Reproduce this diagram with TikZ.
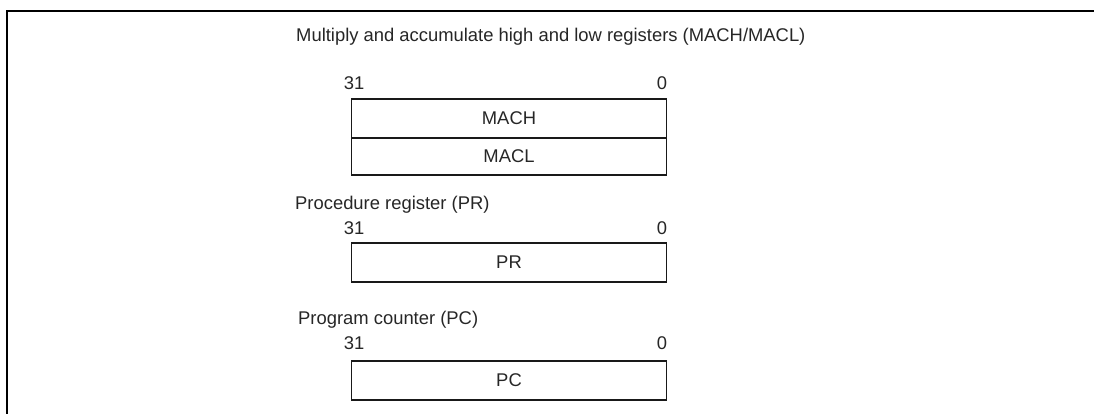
\documentclass[tikz,border=0pt]{standalone}
\usepackage{fontspec}
\setmainfont{Liberation Sans}
\begin{document}
\begin{tikzpicture}[x=1pt,y=-1pt,
  txt/.style={inner sep=0pt, text=black!85, font=\fontsize{18.4}{22}\selectfont},
  reg/.style={draw=black!90, line width=1.6pt, inner sep=0pt, minimum width=315pt, text=black!85, font=\fontsize{18.4}{22}\selectfont},
  frame/.style={draw=black, line width=2pt}]
\useasboundingbox (0,0) rectangle (1094,413);
\coordinate (fa) at (7,414);
\coordinate (fb) at (7,11);
\coordinate (fc) at (1095,11);
\draw[frame] (fa) -- (fb) -- (fc);
% MACH/MACL
\node[txt, anchor=west] (t1) at (296,37) {Multiply and accumulate high and low registers (MACH/MACL)};
\node[txt] (h31) at (354,83) {31};
\node[txt] (h0) at (662,83) {0};
\node[reg, minimum height=39pt] (mach) at (509,118.5) {MACH};
\node[reg, minimum height=37pt] (macl) at (509,156.5) {MACL};
% PR
\node[txt, anchor=west] (t2) at (295,205) {Procedure register (PR)};
\node[txt] (p31) at (354,228) {31};
\node[txt] (p0) at (662,228) {0};
\node[reg, minimum height=39pt] (pr) at (509,262.5) {PR};
% PC
\node[txt, anchor=west] (t3) at (298,320) {Program counter (PC)};
\node[txt] (c31) at (354,343) {31};
\node[txt] (c0) at (662,343) {0};
\node[reg, minimum height=39pt] (pc) at (509,380.5) {PC};
\end{tikzpicture}
\end{document}
